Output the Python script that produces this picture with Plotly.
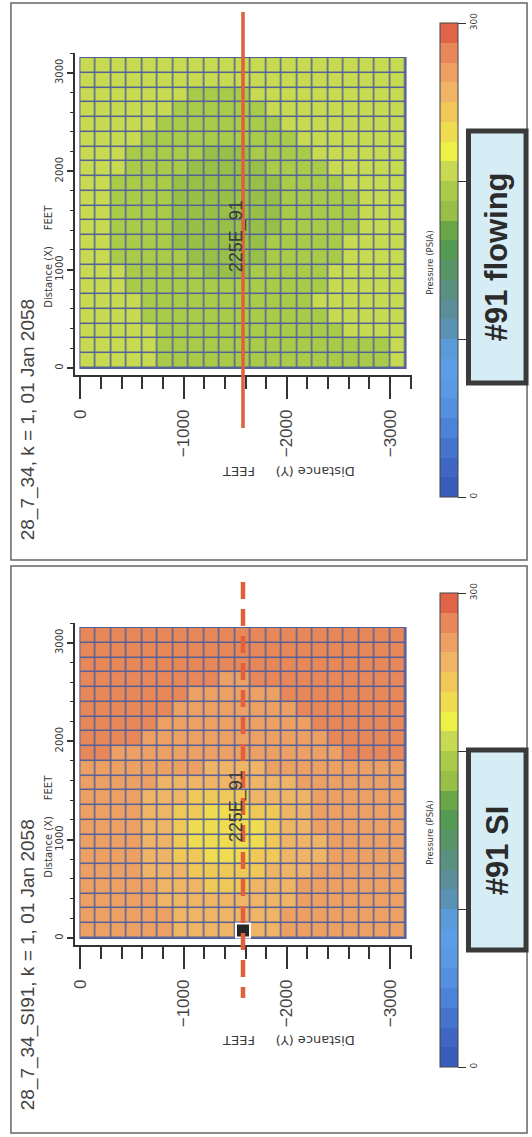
import plotly.graph_objects as go

W, H = 532, 1137

# ---------------- data ----------------
dist_y = [-75, -225, -375, -525, -675, -825, -975, -1125, -1275, -1425, -1575,
          -1725, -1875, -2025, -2175, -2325, -2475, -2625, -2775, -2925, -3075]
dist_x = [3075, 2925, 2775, 2625, 2475, 2325, 2175, 2025, 1875, 1725, 1575,
          1425, 1275, 1125, 975, 825, 675, 525, 375, 225, 75]

p_flowing = [
    [206, 206, 206, 206, 206, 206, 206, 206, 206, 206, 206, 206, 206, 206, 206, 206, 206, 206, 206, 206, 206],
    [206, 206, 206, 206, 206, 206, 206, 206, 206, 206, 206, 206, 206, 206, 206, 206, 206, 206, 206, 206, 206],
    [206, 206, 206, 206, 206, 206, 206, 196, 196, 196, 196, 206, 206, 206, 206, 206, 206, 206, 206, 206, 206],
    [206, 206, 206, 206, 206, 206, 196, 196, 196, 196, 196, 196, 206, 206, 206, 206, 206, 206, 206, 206, 206],
    [206, 206, 206, 206, 206, 196, 196, 196, 196, 196, 196, 196, 196, 206, 206, 206, 206, 206, 206, 206, 206],
    [206, 206, 206, 206, 196, 196, 196, 196, 196, 196, 196, 196, 196, 196, 206, 206, 206, 206, 206, 206, 206],
    [206, 206, 206, 196, 196, 196, 196, 196, 186, 186, 186, 196, 196, 196, 196, 206, 206, 206, 206, 206, 206],
    [206, 206, 206, 196, 196, 196, 196, 186, 186, 186, 186, 186, 196, 196, 196, 196, 206, 206, 206, 206, 206],
    [206, 206, 196, 196, 196, 196, 186, 186, 186, 186, 186, 186, 186, 196, 196, 196, 196, 206, 206, 206, 206],
    [206, 206, 196, 196, 196, 196, 186, 186, 186, 186, 186, 186, 186, 196, 196, 196, 196, 196, 206, 206, 206],
    [206, 206, 196, 196, 196, 196, 186, 186, 186, 186, 186, 186, 186, 196, 196, 196, 196, 196, 206, 206, 206],
    [206, 206, 196, 196, 196, 196, 186, 186, 186, 186, 186, 186, 186, 196, 196, 196, 196, 196, 206, 206, 206],
    [206, 206, 196, 196, 196, 196, 186, 186, 186, 186, 186, 186, 196, 196, 196, 196, 196, 206, 206, 206, 206],
    [206, 206, 196, 196, 196, 196, 196, 186, 186, 186, 186, 186, 196, 196, 196, 196, 196, 206, 206, 206, 206],
    [206, 206, 206, 196, 196, 196, 196, 196, 186, 186, 186, 196, 196, 196, 196, 196, 206, 206, 206, 206, 206],
    [206, 206, 206, 196, 196, 196, 196, 196, 196, 196, 196, 196, 196, 196, 196, 196, 206, 206, 206, 206, 206],
    [206, 206, 206, 206, 196, 196, 196, 196, 196, 196, 196, 196, 196, 196, 196, 206, 206, 206, 206, 206, 206],
    [206, 206, 206, 206, 196, 196, 196, 196, 196, 196, 196, 196, 196, 196, 196, 196, 206, 206, 206, 206, 206],
    [206, 206, 206, 206, 206, 196, 196, 196, 196, 196, 196, 196, 196, 196, 196, 196, 196, 206, 206, 206, 206],
    [206, 206, 206, 206, 206, 196, 196, 196, 196, 196, 196, 196, 196, 196, 196, 196, 196, 196, 196, 196, 206],
    [206, 206, 206, 206, 206, 196, 196, 196, 196, 196, 196, 196, 196, 196, 196, 196, 196, 196, 196, 196, 206],
]

p_shutin = [
    [280, 280, 280, 280, 280, 280, 280, 280, 280, 280, 280, 280, 280, 280, 280, 280, 280, 280, 280, 280, 280],
    [280, 280, 280, 280, 280, 280, 280, 280, 280, 280, 280, 280, 280, 280, 280, 280, 280, 280, 280, 280, 280],
    [280, 280, 280, 280, 280, 280, 280, 280, 280, 280, 280, 280, 280, 280, 280, 280, 280, 280, 280, 280, 280],
    [280, 280, 280, 280, 280, 280, 280, 280, 280, 268, 268, 280, 280, 280, 280, 280, 280, 280, 280, 280, 280],
    [280, 280, 280, 280, 280, 280, 280, 268, 268, 268, 268, 268, 268, 280, 280, 280, 280, 280, 280, 280, 280],
    [280, 280, 280, 280, 280, 280, 268, 268, 268, 268, 268, 268, 268, 268, 280, 280, 280, 280, 280, 280, 280],
    [280, 280, 280, 280, 280, 268, 268, 268, 268, 268, 268, 268, 268, 268, 268, 280, 280, 280, 280, 280, 280],
    [280, 280, 280, 280, 268, 268, 268, 268, 268, 268, 268, 268, 268, 268, 268, 268, 280, 280, 280, 280, 280],
    [280, 280, 268, 268, 268, 268, 268, 268, 268, 268, 268, 268, 268, 268, 268, 268, 268, 280, 280, 280, 280],
    [268, 268, 268, 268, 268, 268, 268, 268, 256, 256, 256, 256, 268, 268, 268, 268, 268, 268, 268, 268, 268],
    [268, 268, 268, 268, 268, 256, 256, 256, 256, 256, 256, 256, 256, 256, 268, 268, 268, 268, 268, 268, 268],
    [268, 268, 268, 268, 256, 256, 256, 245, 245, 245, 245, 256, 256, 256, 256, 268, 268, 268, 268, 268, 268],
    [268, 268, 268, 268, 256, 256, 245, 245, 232, 232, 232, 245, 245, 256, 256, 268, 268, 268, 268, 268, 268],
    [268, 268, 268, 268, 256, 256, 245, 232, 232, 232, 232, 232, 245, 256, 256, 268, 268, 268, 268, 268, 268],
    [268, 268, 268, 268, 256, 256, 245, 232, 232, 232, 232, 232, 245, 256, 256, 256, 268, 268, 268, 268, 268],
    [268, 268, 268, 268, 256, 256, 245, 245, 232, 232, 232, 245, 245, 256, 256, 256, 268, 268, 268, 268, 268],
    [268, 268, 268, 268, 256, 256, 256, 245, 245, 245, 245, 245, 256, 256, 256, 268, 268, 268, 268, 268, 268],
    [268, 268, 268, 268, 268, 256, 256, 256, 245, 245, 245, 256, 256, 256, 268, 268, 268, 268, 268, 268, 268],
    [268, 268, 268, 268, 268, 256, 256, 256, 256, 256, 256, 256, 256, 256, 268, 268, 268, 268, 268, 268, 268],
    [268, 268, 268, 268, 268, 268, 256, 256, 256, 256, 256, 256, 256, 268, 268, 268, 268, 268, 268, 268, 268],
    [268, 268, 268, 268, 268, 268, 256, 256, 256, 256, 256, 256, 256, 268, 268, 268, 268, 268, 268, 268, 268],
]

well_y = [-1575]
well_x = [75]
well_label = "225E_91"
panel_titles = ["28_7_34, k = 1, 01 Jan 2058", "28_7_34_SI91, k = 1, 01 Jan 2058"]
box_labels = ["#91 flowing", "#91 SI"]
x_major = [0, -1000, -2000, -3000]
y_major = [0, 1000, 2000, 3000]
cb_tickvals = [0, 100, 200, 300]
cb_ticktext = ["0", "", "", "300"]
p_min, p_max = 0, 300

# ---------------- style ----------------
band_colors = [
    "#3a5cbc", "#3f66c4", "#4574cc", "#4c82d8", "#5590e0", "#5a98e4",
    "#5c9ee6", "#5a9ad8", "#5a92b4", "#5a8e98", "#5a9080", "#589468",
    "#559a52", "#6aa648", "#98c048", "#aacb4a", "#c8da52", "#eef048",
    "#f0dc50", "#f0c858", "#efb466", "#eca064", "#e8885a", "#e26448",
]
nb = len(band_colors)
colorscale = []
for i, c in enumerate(band_colors):
    colorscale.append([i / nb, c])
    colorscale.append([(i + 1) / nb, c])

def fx(px):
    return px / W

def fy(py):
    return 1 - py / H

SCX = 0.104         # px per foot, horizontal
SCY = 0.0984        # px per foot, vertical
X0 = 77             # pixel column of Distance(Y) = 0
AX_L, AX_R = 72, 411
offsets = [0, 570]
boxes = [(131, 383), (750, 950)]
frames = [(3, 560), (566, 1133)]
GRID = "#52609a"
TXT = "#3a3a3a"
SANS = "Liberation Sans, Arial, sans-serif"
SMALL = "DejaVu Sans, Verdana, sans-serif"
RED = "#e0603a"

fig = go.Figure()
half = abs(dist_y[1] - dist_y[0]) / 2
x_edge0, x_edge1 = max(dist_y) + half, min(dist_y) - half
y_edge0, y_edge1 = min(dist_x) - half, max(dist_x) + half

shapes = []
annotations = []
layout_axes = {}

for k, (z, off) in enumerate(zip([p_flowing, p_shutin], offsets)):
    xa = "x" if k == 0 else "x2"
    ya = "y" if k == 0 else "y2"
    y0px = 368 + off          # pixel row of Distance(X) = 0
    top_px, bot_px = 53 + off, 375 + off
    fig.add_trace(go.Heatmap(
        x=dist_y, y=dist_x, z=z, zmin=p_min, zmax=p_max,
        colorscale=colorscale, xgap=1.5, ygap=1.5,
        xaxis=xa, yaxis=ya, hoverinfo="skip",
        colorbar=dict(
            x=fx(439), xanchor="left", y=fy(23 + off), yanchor="top",
            len=474, lenmode="pixels", thickness=18, thicknessmode="pixels",
            xpad=0, ypad=0, outlinewidth=1, outlinecolor="#444",
            tickvals=cb_tickvals, ticktext=cb_ticktext, ticks="outside",
            ticklen=8, tickwidth=1, tickcolor="#333", tickangle=-90,
            tickfont=dict(family=SMALL, size=9, color=TXT),
        ),
    ))
    sfx = "" if k == 0 else "2"
    layout_axes["xaxis" + sfx] = dict(
        domain=[fx(AX_L), fx(AX_R)],
        range=[(X0 - AX_L) / SCX, -(AX_R - X0) / SCX],
        anchor=ya, showgrid=False, zeroline=False,
        showline=True, linecolor="#333", linewidth=1.5,
        ticks="outside", tickvals=x_major, ticklen=22, tickwidth=2, tickcolor="#333",
        minor=dict(dtick=200, tick0=0, ticks="outside", ticklen=12, tickwidth=1.5, tickcolor="#333"),
        tickangle=-90, ticklabelstandoff=4,
        tickfont=dict(family=SANS, size=17, color="#444"),
    )
    layout_axes["yaxis" + sfx] = dict(
        domain=[fy(bot_px), fy(top_px)],
        range=[-(bot_px - y0px) / SCY, (y0px - top_px) / SCY],
        anchor=xa, showgrid=False, zeroline=False,
        showline=True, linecolor="#333", linewidth=1.5,
        ticks="outside", tickvals=y_major, ticklen=7, tickwidth=1.5, tickcolor="#333",
        minor=dict(dtick=200, tick0=0, ticks="outside", ticklen=4, tickwidth=1, tickcolor="#333"),
        tickangle=-90, tickfont=dict(family=SMALL, size=10, color=TXT),
    )
    # grid-line backing under the cells
    shapes.append(dict(type="rect", xref=xa, yref=ya, layer="below",
                       x0=x_edge0 + 10, x1=x_edge1 - 10, y0=y_edge0 - 10, y1=y_edge1 + 10,
                       fillcolor=GRID, line=dict(width=0)))
    # panel frame
    f0, f1 = frames[k]
    shapes.append(dict(type="rect", xref="paper", yref="paper",
                       x0=fx(7), x1=fx(527), y0=fy(f1), y1=fy(f0),
                       line=dict(color="#666", width=1.5)))
    # cross-section line through the well
    shapes.append(dict(type="line", xref=xa, yref="paper",
                       x0=well_y[0], x1=well_y[0],
                       y0=fy(12 + off), y1=fy(428 + off),
                       line=dict(color=RED, width=3.5 if k == 0 else 4.5,
                                 dash="solid" if k == 0 else "17px,10px")))
    # label box
    box_top, box_bot = boxes[k]
    shapes.append(dict(type="rect", xref="paper", yref="paper",
                       x0=fx(468), x1=fx(526), y0=fy(box_bot), y1=fy(box_top),
                       fillcolor="#d6edf5", line=dict(color="#3a3a3a", width=5)))
    annotations.append(dict(text=box_labels[k], xref="paper", yref="paper",
                            x=fx(497), y=fy((box_top + box_bot) / 2), textangle=-90,
                            showarrow=False, xanchor="center", yanchor="middle",
                            font=dict(family=SANS, size=31, color="#2b2b2b", weight="bold")))
    # title
    annotations.append(dict(text=panel_titles[k], xref="paper", yref="paper",
                            x=fx(24), y=fy(542 + off), textangle=-90,
                            showarrow=False, xanchor="center", yanchor="bottom",
                            font=dict(family=SANS, size=19, color="#444")))
    # axis titles
    annotations.append(dict(text="Distance (X)\u00a0\u00a0\u00a0\u00a0\u00a0FEET", xref="paper", yref="paper",
                            x=fx(44), y=fy(256 + off), textangle=-90,
                            showarrow=False, xanchor="center", yanchor="middle",
                            font=dict(family=SMALL, size=10, color=TXT)))
    annotations.append(dict(text="Distance (Y)\u00a0\u00a0\u00a0\u00a0\u00a0FEET", xref="paper", yref="paper",
                            x=fx(287), y=fy(471 + off), textangle=180,
                            showarrow=False, xanchor="center", yanchor="middle",
                            font=dict(family=SMALL, size=13, color=TXT)))
    annotations.append(dict(text="Pressure (PSIA)", xref="paper", yref="paper",
                            x=fx(429), y=fy(263 + off), textangle=-90,
                            showarrow=False, xanchor="center", yanchor="middle",
                            font=dict(family=SMALL, size=8.5, color=TXT)))
    annotations.append(dict(text=well_label, xref="paper", yref="paper",
                            x=fx(234), y=fy(236 + off), textangle=-90,
                            showarrow=False, xanchor="center", yanchor="middle",
                            font=dict(family=SANS, size=18, color="#3a3a3a")))

# well block in the shut-in panel
fig.add_trace(go.Scatter(
    x=well_y, y=well_x, xaxis="x2", yaxis="y2", mode="markers",
    marker=dict(symbol="square", size=14, color="#262626",
                line=dict(color="white", width=2)),
    hoverinfo="skip", showlegend=False,
))

fig.update_layout(
    width=W, height=H, margin=dict(l=0, r=0, t=0, b=0),
    paper_bgcolor="white", plot_bgcolor="white",
    showlegend=False, shapes=shapes, annotations=annotations,
    **layout_axes,
)

fig.write_html("out.html")
